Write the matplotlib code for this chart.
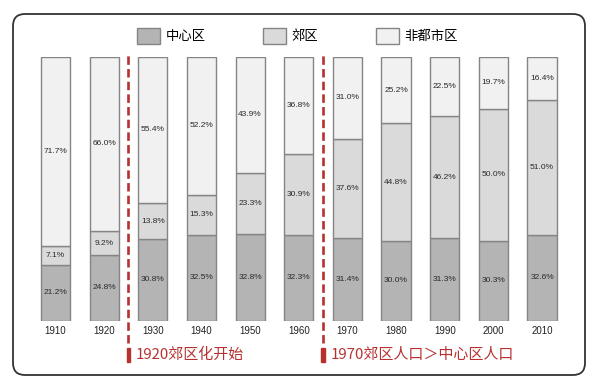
import matplotlib
matplotlib.use("Agg")
import matplotlib.pyplot as plt
from matplotlib.patches import FancyBboxPatch, Rectangle
import numpy as np

plt.rcParams['font.family'] = ['Liberation Sans', 'Noto Sans CJK SC']

years = ['1910', '1920', '1930', '1940', '1950', '1960', '1970', '1980', '1990', '2000', '2010']
center = [21.2, 24.8, 30.8, 32.5, 32.8, 32.3, 31.4, 30.0, 31.3, 30.3, 32.6]
suburb = [7.1, 9.2, 13.8, 15.3, 23.3, 30.9, 37.6, 44.8, 46.2, 50.0, 51.0]
nonmetro = [71.7, 66.0, 55.4, 52.2, 43.9, 36.8, 31.0, 25.2, 22.5, 19.7, 16.4]
series_names = ['中心区', '郊区', '非都市区']
notes = ['1920郊区化开始', '1970郊区人口＞中心区人口']
note_pos = [1.5, 5.5]

colors = ['#b4b4b4', '#dadada', '#f1f1f1']
red = '#b83030'

W, H = 600, 388
fig = plt.figure(figsize=(6, 3.88), dpi=100)

# rounded frame, kept behind the axes
frame = FancyBboxPatch((0.13, 0.13), 5.72, 3.61, boxstyle='round,pad=0,rounding_size=0.12',
                       transform=fig.dpi_scale_trans, fc='white', ec='#333333', lw=1.3, zorder=-5)
fig.patches.append(frame)

# axes so that bar centres land at 55.5px .. 542px
px_unit = (542 - 55.5) / 10
x0, x1 = -0.6, 10.6
left = 55.5 + x0 * px_unit
right = 55.5 + x1 * px_unit
top, bottom = 57, 320.5
ax = fig.add_axes([left / W, (H - bottom) / H, (right - left) / W, (bottom - top) / H])
ax.set_xlim(x0, x1)
ax.set_ylim(0, 100)
ax.patch.set_alpha(0)
for s in ax.spines.values():
    s.set_visible(False)

x = np.arange(len(years))
bw = 0.6
handles = []
base = np.zeros(len(years))
for vals, c, name in zip([center, suburb, nonmetro], colors, series_names):
    b = ax.bar(x, vals, bw, bottom=base, color=c, edgecolor='#858585', lw=1.0, label=name)
    handles.append(b)
    for xi, v, b0 in zip(x, vals, base):
        ax.text(xi, b0 + v / 2, f'{v:.1f}%', ha='center', va='center', fontsize=6, color='#2a2a2a')
    base = base + np.array(vals)

ax.set_xticks(x)
ax.set_xticklabels(years, fontsize=7, color='#222222')
ax.tick_params(axis='x', length=0, pad=4)
ax.set_yticks([])

# red dashed separators and notes
for xp, txt in zip(note_pos, notes):
    ax.axvline(xp, ymin=-0.085, ymax=1.01, color=red, lw=1.9, dashes=(3.2, 1.6), clip_on=False)
    ax.add_patch(Rectangle((xp - 0.04, -0.157), 0.08, 0.053, transform=ax.get_xaxis_transform(),
                           color=red, clip_on=False))
    ax.text(xp + 0.15, -0.13, txt, transform=ax.get_xaxis_transform(), fontsize=10.8,
            color=red, ha='left', va='center', family=['Noto Sans CJK SC'])

fig.legend(handles=handles, labels=series_names, loc='center left', bbox_to_anchor=(137 / W, 1 - 36 / H),
           ncol=3, frameon=False, fontsize=9.6, handlelength=1.75, handleheight=1.4,
           handletextpad=0.4, columnspacing=4.3, borderpad=0, borderaxespad=0)

fig.savefig('out.png', dpi=100)
